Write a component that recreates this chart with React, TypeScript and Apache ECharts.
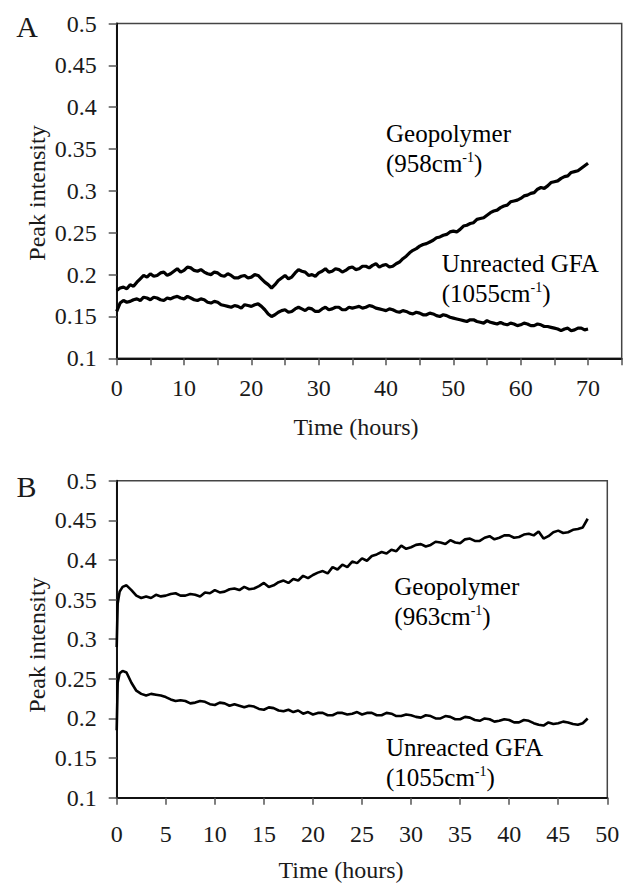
import React, { useEffect, useRef } from "react";
import * as echarts from "echarts";

// Panel A (hours, peak intensity)
const timeA = [0,0.5,1,1.5,2,2.5,3,3.5,4,4.5,5,5.5,6,6.5,7,7.5,8,8.5,9,9.5,10,10.5,11,11.5,12,12.5,13,13.5,14,14.5,15,15.5,16,16.5,17,17.5,18,18.5,19,19.5,20,20.5,21,21.5,22,22.5,23,23.5,24,24.5,25,25.5,26,26.5,27,27.5,28,28.5,29,29.5,30,30.5,31,31.5,32,32.5,33,33.5,34,34.5,35,35.5,36,36.5,37,37.5,38,38.5,39,39.5,40,40.5,41,41.5,42,42.5,43,43.5,44,44.5,45,45.5,46,46.5,47,47.5,48,48.5,49,49.5,50,50.5,51,51.5,52,52.5,53,53.5,54,54.5,55,55.5,56,56.5,57,57.5,58,58.5,59,59.5,60,60.5,61,61.5,62,62.5,63,63.5,64,64.5,65,65.5,66,66.5,67,67.5,68,68.5,69,69.5,70];
const geoA = [
  0.181,0.184,0.185,0.183,0.188,0.186,0.191,0.195,0.199,0.197,
  0.201,0.198,0.199,0.202,0.203,0.199,0.201,0.204,0.207,0.203,
  0.205,0.209,0.208,0.205,0.204,0.206,0.203,0.201,0.200,0.203,
  0.202,0.199,0.198,0.201,0.199,0.196,0.196,0.198,0.199,0.196,
  0.197,0.200,0.199,0.195,0.191,0.188,0.184,0.188,0.193,0.196,
  0.199,0.195,0.197,0.202,0.206,0.204,0.203,0.199,0.200,0.198,
  0.202,0.204,0.207,0.203,0.204,0.207,0.206,0.203,0.205,0.208,
  0.209,0.206,0.207,0.210,0.210,0.208,0.211,0.213,0.209,0.211,
  0.212,0.209,0.210,0.213,0.215,0.219,0.222,0.226,0.229,0.231,
  0.234,0.236,0.237,0.239,0.241,0.244,0.245,0.247,0.248,0.251,
  0.252,0.251,0.254,0.258,0.259,0.261,0.262,0.266,0.267,0.268,
  0.271,0.274,0.276,0.277,0.280,0.282,0.283,0.287,0.288,0.289,
  0.291,0.294,0.295,0.297,0.298,0.302,0.304,0.303,0.306,0.310,
  0.311,0.312,0.315,0.317,0.318,0.322,0.323,0.324,0.327,0.330,
  0.333];
const gfaA = [
  0.156,0.166,0.169,0.167,0.168,0.170,0.171,0.169,0.173,0.172,
  0.170,0.173,0.172,0.170,0.169,0.172,0.171,0.173,0.174,0.172,
  0.171,0.174,0.172,0.170,0.169,0.171,0.170,0.167,0.166,0.168,
  0.167,0.164,0.163,0.162,0.161,0.163,0.162,0.160,0.164,0.163,
  0.162,0.164,0.165,0.162,0.158,0.153,0.150,0.152,0.155,0.157,
  0.158,0.155,0.156,0.159,0.161,0.159,0.157,0.160,0.159,0.156,
  0.156,0.159,0.161,0.158,0.159,0.161,0.161,0.158,0.158,0.161,
  0.160,0.161,0.162,0.160,0.161,0.163,0.162,0.160,0.159,0.158,
  0.157,0.159,0.158,0.156,0.155,0.157,0.156,0.154,0.153,0.155,
  0.154,0.152,0.152,0.154,0.153,0.151,0.150,0.152,0.151,0.149,
  0.148,0.147,0.146,0.145,0.144,0.146,0.146,0.144,0.143,0.142,
  0.145,0.143,0.142,0.141,0.143,0.141,0.140,0.142,0.141,0.139,
  0.140,0.142,0.141,0.139,0.139,0.141,0.140,0.138,0.138,0.137,
  0.136,0.135,0.133,0.135,0.136,0.133,0.134,0.136,0.136,0.134,
  0.135];

// Panel B
const timeB = [0,0.1,0.3,0.6,1,1.5,2,2.5,3,3.5,4,4.5,5,5.5,6,6.5,7,7.5,8,8.5,9,9.5,10,10.5,11,11.5,12,12.5,13,13.5,14,14.5,15,15.5,16,16.5,17,17.5,18,18.5,19,19.5,20,20.5,21,21.5,22,22.5,23,23.5,24,24.5,25,25.5,26,26.5,27,27.5,28,28.5,29,29.5,30,30.5,31,31.5,32,32.5,33,33.5,34,34.5,35,35.5,36,36.5,37,37.5,38,38.5,39,39.5,40,40.5,41,41.5,42,42.5,43,43.5,44,44.5,45,45.5,46,46.5,47,47.5,48];
const geoB = [
  0.290,0.345,0.360,0.366,0.368,0.362,0.355,0.352,
  0.354,0.352,0.356,0.354,0.355,0.357,0.358,0.355,0.355,0.357,
  0.356,0.354,0.359,0.358,0.362,0.359,0.360,0.363,0.364,0.362,
  0.366,0.363,0.364,0.367,0.371,0.366,0.368,0.372,0.374,0.371,
  0.376,0.374,0.380,0.377,0.381,0.384,0.386,0.383,0.391,0.388,
  0.394,0.391,0.398,0.396,0.402,0.399,0.405,0.407,0.410,0.408,
  0.413,0.411,0.418,0.414,0.416,0.419,0.420,0.417,0.419,0.423,
  0.422,0.420,0.425,0.422,0.421,0.426,0.427,0.424,0.424,0.428,
  0.430,0.426,0.428,0.431,0.431,0.428,0.429,0.432,0.433,0.431,
  0.436,0.427,0.430,0.435,0.437,0.434,0.435,0.438,0.439,0.441,
  0.452];
const gfaB = [
  0.185,0.245,0.257,0.260,0.258,0.245,0.235,0.231,
  0.229,0.231,0.230,0.229,0.227,0.224,0.222,0.223,0.222,0.219,
  0.220,0.222,0.221,0.218,0.217,0.220,0.219,0.216,0.218,0.216,
  0.214,0.216,0.215,0.212,0.211,0.214,0.213,0.210,0.209,0.211,
  0.208,0.210,0.206,0.208,0.205,0.207,0.207,0.204,0.204,0.207,
  0.207,0.205,0.206,0.208,0.205,0.207,0.207,0.204,0.204,0.207,
  0.206,0.203,0.203,0.205,0.204,0.202,0.201,0.204,0.203,0.200,
  0.200,0.203,0.202,0.199,0.199,0.202,0.201,0.198,0.197,0.200,
  0.199,0.196,0.197,0.199,0.198,0.195,0.195,0.198,0.197,0.194,
  0.192,0.191,0.195,0.193,0.194,0.196,0.195,0.193,0.192,0.194,
  0.200];

const FONT = "Liberation Serif";
const TXT = "#1a1a1a";

function makeX(grid: number, max: number, interval: number, labelEvery: number, lastLabel: number, margin: number) {
  return {
    type: "value",
    gridIndex: grid,
    min: 0,
    max,
    interval,
    axisLine: { show: true, onZero: false, lineStyle: { color: "#111", width: 2 } },
    axisTick: { show: true, inside: false, length: 7, lineStyle: { color: "#555", width: 1.5 } },
    axisLabel: {
      show: true,
      margin,
      fontFamily: FONT,
      fontSize: 24,
      color: TXT,
      showMaxLabel: true,
      formatter: (v: number) => (Math.round(v) % labelEvery === 0 && v <= lastLabel ? String(v) : ""),
    },
    splitLine: { show: false },
  };
}

function makeY(grid: number, margin: number) {
  return {
    type: "value",
    gridIndex: grid,
    min: 0.1,
    max: 0.5,
    interval: 0.05,
    axisLine: { show: true, onZero: false, lineStyle: { color: "#111", width: 2 } },
    axisTick: { show: true, inside: false, length: 8, lineStyle: { color: "#555", width: 1.5 } },
    axisLabel: {
      show: true,
      margin,
      fontFamily: FONT,
      fontSize: 24,
      color: TXT,
      align: "right",
      formatter: (v: number) => String(+v.toFixed(2)),
    },
    splitLine: { show: false },
  };
}

const richStyles = {
  a: { fontFamily: FONT, fontSize: 25, color: TXT, lineHeight: 30 },
  sup: { fontFamily: FONT, fontSize: 14, color: TXT, lineHeight: 30, verticalAlign: "top", padding: [2, 0, 0, 0] },
};

function annot(x: number, y: number, l1: string, l2a: string) {
  return {
    type: "text",
    x,
    y,
    style: {
      text: `{a|${l1}}\n{a|${l2a}}{sup|-1}{a|)}`,
      rich: richStyles,
      align: "left",
      verticalAlign: "top",
    },
  };
}

function pairs(t: number[], v: number[]) {
  return t.map((x, i) => [x, v[i]]);
}

export default function App() {
  const ref = useRef<HTMLDivElement>(null);
  useEffect(() => {
    document.body.style.margin = "0";
    const chart = echarts.init(ref.current!, undefined, { renderer: "svg" });
    const option = {
      animation: false,
      backgroundColor: "#fff",
      textStyle: { fontFamily: FONT, fontSize: 24, color: TXT },
      grid: [
        { left: 116.7, top: 23.5, width: 505, height: 334.8, show: true, borderColor: "#444", borderWidth: 1.5, backgroundColor: "transparent", outerBoundsMode: "none" },
        { left: 116.7, top: 480.7, width: 490.6, height: 317, show: true, borderColor: "#444", borderWidth: 1.5, backgroundColor: "transparent", outerBoundsMode: "none" },
      ],
      xAxis: [makeX(0, 75, 5, 10, 70, 18), makeX(1, 50, 5, 5, 50, 24)],
      yAxis: [makeY(0, 20), makeY(1, 20)],
      series: [
        { type: "line", xAxisIndex: 0, yAxisIndex: 0, showSymbol: false, data: pairs(timeA, geoA), lineStyle: { color: "#000", width: 3.2 } },
        { type: "line", xAxisIndex: 0, yAxisIndex: 0, showSymbol: false, data: pairs(timeA, gfaA), lineStyle: { color: "#000", width: 3.2 } },
        { type: "line", xAxisIndex: 1, yAxisIndex: 1, showSymbol: false, data: pairs(timeB, geoB), lineStyle: { color: "#000", width: 2.6 } },
        { type: "line", xAxisIndex: 1, yAxisIndex: 1, showSymbol: false, data: pairs(timeB, gfaB), lineStyle: { color: "#000", width: 2.6 } },
      ],
      graphic: [
        { type: "text", x: 27, y: 26, style: { text: "A", font: `30px ${FONT}`, fill: TXT, align: "center", verticalAlign: "middle" } },
        { type: "text", x: 26.5, y: 486, style: { text: "B", font: `30px ${FONT}`, fill: TXT, align: "center", verticalAlign: "middle" } },
        { type: "text", x: 37, y: 193, rotation: Math.PI / 2, style: { text: "Peak intensity", font: `24px ${FONT}`, fill: TXT, align: "center", verticalAlign: "middle" } },
        { type: "text", x: 37, y: 645, rotation: Math.PI / 2, style: { text: "Peak intensity", font: `24px ${FONT}`, fill: TXT, align: "center", verticalAlign: "middle" } },
        { type: "text", x: 356, y: 427, style: { text: "Time (hours)", font: `24px ${FONT}`, fill: TXT, align: "center", verticalAlign: "middle" } },
        { type: "text", x: 341, y: 870, style: { text: "Time (hours)", font: `24px ${FONT}`, fill: TXT, align: "center", verticalAlign: "middle" } },
        annot(386, 118, "Geopolymer", "(958cm"),
        annot(441.7, 248.3, "Unreacted GFA", "(1055cm"),
        annot(394.3, 571.7, "Geopolymer", "(963cm"),
        annot(386, 732.3, "Unreacted GFA", "(1055cm"),
      ],
    };
    chart.setOption(option as any);
    return () => chart.dispose();
  }, []);
  return <div ref={ref} style={{ width: 623, height: 887 }} />;
}
